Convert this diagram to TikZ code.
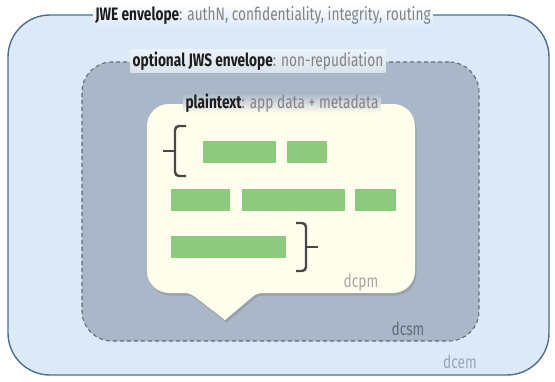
\documentclass[tikz,border=0pt]{standalone}
\usepackage{fontspec}
\setmainfont{Fira Sans}[FakeStretch=0.76]
\usepackage{tikz}
\usetikzlibrary{positioning, shadows}
\definecolor{jwefill}{HTML}{DCEAF8}
\definecolor{jwedraw}{HTML}{4F6E8E}
\definecolor{jwsfill}{HTML}{A9B7C9}
\definecolor{jwsdraw}{HTML}{5E6C7C}
\definecolor{ptfill}{HTML}{FFFEEC}
\definecolor{bargreen}{HTML}{8DC97E}
\definecolor{bracegray}{HTML}{474747}
\definecolor{headtext}{HTML}{1E1E1E}
\definecolor{subtext}{HTML}{828282}
\tikzset{
    envelope_jwe/.style={rectangle, draw=jwedraw, line width=1.4pt, fill=jwefill, rounded corners=42pt},
    envelope_jws/.style={rectangle, draw=jwsdraw, line width=1.1pt, dash pattern=on 4pt off 3pt, fill=jwsfill, rounded corners=30pt},
    lbl/.style={inner sep=2pt, font=\fontsize{18}{20}\selectfont, text=subtext},
    tag/.style={inner sep=0pt, font=\fontsize{18}{20}\selectfont}
}

\begin{document}
\begin{tikzpicture}[x=1pt, y=-1pt, node distance=10pt]
            \tikzstyle{bar}=[rectangle, fill=bargreen, minimum height=22pt, inner sep=0pt, anchor=north west]
            \tikzstyle{brace}=[draw=bracegray, line width=2.4pt, rounded corners=4pt]

            \fill[white] (0,0) rectangle (555,381);
            \useasboundingbox (0,0) rectangle (555,381);

            % Envelopes
            \node (jwe) [envelope_jwe, minimum width=541pt, minimum height=360pt] at (278.5,195) {};
            \node (jws) [envelope_jws, minimum width=397pt, minimum height=279pt] at (280.5,201.5) {};

            % Plaintext callout
            \path[fill=ptfill, drop shadow={shadow xshift=1.5pt, shadow yshift=-2.5pt, opacity=0.4}]
                (225,320) [rounded corners=5pt] -- (190,293) [rounded corners=22pt] -- (147,293)
                -- (147,104) -- (415,104) -- (415,293) [rounded corners=5pt] -- (257,293)
                [sharp corners] -- cycle;

            % Envelope labels
            \node (jwe_lbl) [lbl, top color=white, bottom color=jwefill] at (263,15)
                {\textcolor{headtext}{\bfseries JWE envelope}: authN, confidentiality, integrity, routing};
            \node (jws_lbl) [lbl, top color=jwefill!60!white, bottom color=jwsfill!40!white] at (258,61)
                {\textcolor{headtext}{\bfseries optional JWS envelope}: non-repudiation};
            \node (pt_lbl) [lbl, top color=jwsfill, bottom color=ptfill, inner ysep=1pt] at (282,103)
                {\textcolor{headtext}{\bfseries plaintext}: app data + metadata};

            % Data bars
            \node (b1) [bar, minimum width=73pt] at (203,141) {};
            \node (b2) [bar, minimum width=40pt, right=10pt of b1.north east, anchor=north west] {};
            \node (b3) [bar, minimum width=59pt] at (171,189) {};
            \node (b4) [bar, minimum width=103pt, right=11pt of b3.north east, anchor=north west] {};
            \node (b5) [bar, minimum width=41pt, right=10pt of b4.north east, anchor=north west] {};
            \node (b6) [bar, minimum width=115pt] at (171,236) {};

            % Braces
            \draw[brace] (186,126) -- (175,126) -- (175,176) -- (186,176);
            \draw[bracegray, line width=2.4pt] (175,151) -- (163,151);
            \draw[brace] (296,223) -- (306,223) -- (306,271) -- (296,271);
            \draw[bracegray, line width=2.4pt] (306,247) -- (318,247);

            % Layer names
            \node (dcpm) [tag, text=black!35] at (361,283) {dcpm};
            \node (dcsm) [tag, text=jwsdraw] at (408,329) {dcsm};
            \node (dcem) [tag, text=jwsfill!90!black] at (460,362) {dcem};
		\end{tikzpicture}
\end{document}
